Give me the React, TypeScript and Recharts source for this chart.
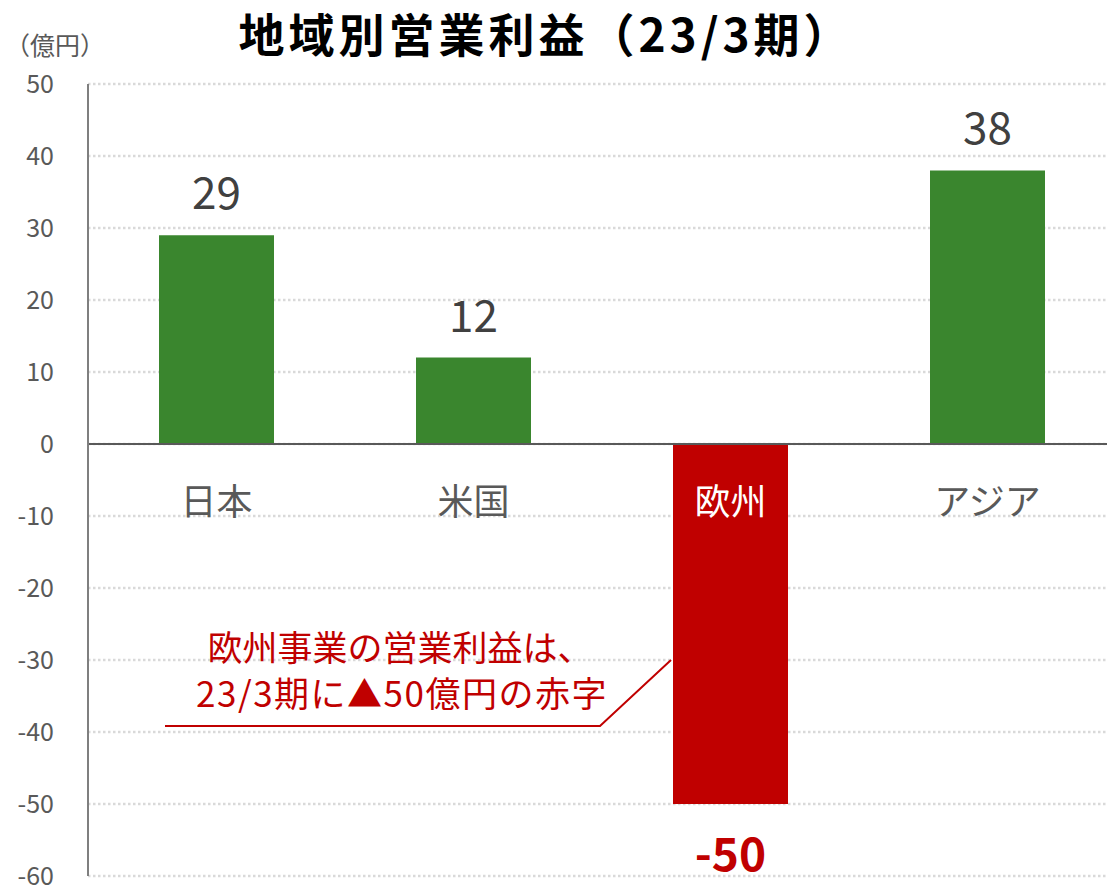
import React from 'react'
import { Bar, BarChart, CartesianGrid, Cell, LabelList, ReferenceLine, XAxis, YAxis } from 'recharts'

const regions = ['日本', '米国', '欧州', 'アジア']
const profits = [29, 12, -50, 38]
const yTicks = [-60, -50, -40, -30, -20, -10, 0, 10, 20, 30, 40, 50]

const GREEN = '#3a862e'
const RED = '#c00000'
const GRAY_TEXT = '#595959'
const FONT = '"Noto Sans CJK JP", "Noto Sans", sans-serif'

const CHART_W = 1116
const CHART_H = 887
const MARGIN = { top: 84, right: 0, bottom: 11, left: 0 }

function ValueLabel(props: any) {
  const { x = 0, y = 0, width = 0, height = 0, value } = props
  const top = Math.min(y, y + height)
  const bottom = Math.max(y, y + height)
  const cx = x + width / 2
  if (value < 0) {
    return (
      <text x={cx} y={bottom + 67} textAnchor="middle" fill={RED} fontFamily={FONT} fontSize={46} fontWeight={700}>
        {value}
      </text>
    )
  }
  return (
    <text x={cx} y={top - 26} textAnchor="middle" fill="#404040" fontFamily={FONT} fontSize={44}>
      {value}
    </text>
  )
}

function CategoryLabel(props: any) {
  const { x = 0, y = 0, width = 0, height = 0, value, index } = props
  const v = profits[index ?? 0]
  // zero line: bottom of a positive bar, top of a negative bar
  const zeroY = v >= 0 ? Math.max(y, y + height) : Math.min(y, y + height)
  return (
    <text
      x={x + width / 2}
      y={zeroY + 71}
      textAnchor="middle"
      fill={v < 0 ? '#ffffff' : GRAY_TEXT}
      fontFamily={FONT}
      fontSize={36}
    >
      {value}
    </text>
  )
}

export default function App() {
  const data = regions.map((region, i) => ({ region, value: profits[i] }))

  return (
    <div
      style={{
        position: 'absolute',
        left: 0,
        top: 0,
        width: 1107,
        height: 887,
        overflow: 'hidden',
        background: '#ffffff'
      }}
    >
      <BarChart width={CHART_W} height={CHART_H} data={data} margin={MARGIN} barSize={115}>
        <CartesianGrid vertical={false} stroke="#d9d9d9" strokeWidth={2.5} strokeDasharray="2.5 2.5" />
        <XAxis dataKey="region" hide />
        <YAxis
          domain={[-60, 50]}
          ticks={yTicks}
          interval={0}
          width={88}
          tickLine={false}
          axisLine={{ stroke: '#7f7f7f', strokeWidth: 2 }}
          tickMargin={28}
          tick={{ fill: GRAY_TEXT, fontSize: 25, fontFamily: FONT }}
        />
        <ReferenceLine y={0} stroke="#595959" strokeWidth={2} />
        <Bar dataKey="value" isAnimationActive={false}>
          {data.map((d, i) => (
            <Cell key={d.region} fill={d.value < 0 ? RED : GREEN} />
          ))}
          <LabelList dataKey="value" content={ValueLabel} />
          <LabelList dataKey="region" content={CategoryLabel} />
        </Bar>
      </BarChart>
      <svg width={1107} height={887} style={{ position: 'absolute', left: 0, top: 0, pointerEvents: 'none' }}>
        <text x={546} y={52} textAnchor="middle" fill="#000000" fontFamily={FONT} fontSize={46} fontWeight={700} letterSpacing={4}>
          地域別営業利益（23/3期）
        </text>
        <text x={55} y={55} textAnchor="middle" fill={GRAY_TEXT} fontFamily={FONT} fontSize={25}>
          （億円）
        </text>
        <text x={400} y={661} textAnchor="middle" fill={RED} fontFamily={FONT} fontSize={35}>
          欧州事業の営業利益は、
        </text>
        <text x={402} y={707} textAnchor="middle" fill={RED} fontFamily={FONT} fontSize={35} letterSpacing={1.5}>
          23/3期に▲50億円の赤字
        </text>
        <polyline points="165,726 600,726 671,660" fill="none" stroke={RED} strokeWidth={2} />
      </svg>
    </div>
  )
}
